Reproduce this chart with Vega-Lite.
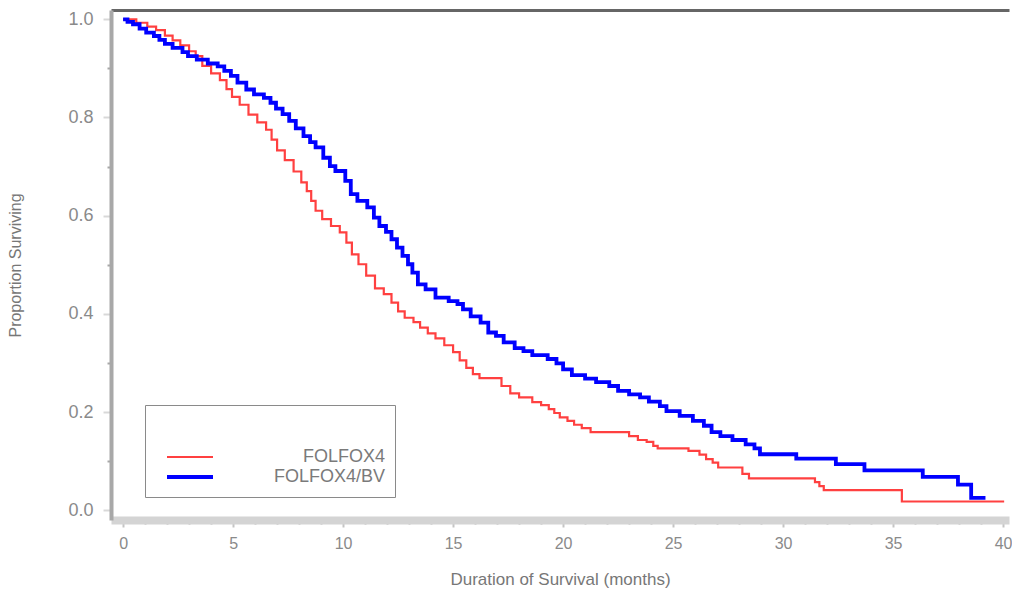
{
  "$schema": "https://vega.github.io/schema/vega-lite/v6.json",
  "width": 898,
  "height": 510,
  "autosize": {"type": "none"},
  "padding": {"left": 111, "top": 10, "right": 3, "bottom": 70},
  "background": "white",
  "config": {"view": {"stroke": null}, "font": "Liberation Sans"},
  "datasets": {
    "km": [
      {"series": "FOLFOX4", "t": 0, "s": 1.0},
      {"series": "FOLFOX4", "t": 0.6, "s": 0.993},
      {"series": "FOLFOX4", "t": 1.1, "s": 0.985},
      {"series": "FOLFOX4", "t": 1.5, "s": 0.978},
      {"series": "FOLFOX4", "t": 1.9, "s": 0.967},
      {"series": "FOLFOX4", "t": 2.25, "s": 0.957},
      {"series": "FOLFOX4", "t": 2.6, "s": 0.947},
      {"series": "FOLFOX4", "t": 3.0, "s": 0.935},
      {"series": "FOLFOX4", "t": 3.3, "s": 0.925},
      {"series": "FOLFOX4", "t": 3.6, "s": 0.905},
      {"series": "FOLFOX4", "t": 4.0, "s": 0.89},
      {"series": "FOLFOX4", "t": 4.4, "s": 0.876},
      {"series": "FOLFOX4", "t": 4.7, "s": 0.858},
      {"series": "FOLFOX4", "t": 4.95, "s": 0.842},
      {"series": "FOLFOX4", "t": 5.3, "s": 0.826},
      {"series": "FOLFOX4", "t": 5.7, "s": 0.806},
      {"series": "FOLFOX4", "t": 6.1, "s": 0.79},
      {"series": "FOLFOX4", "t": 6.5, "s": 0.775},
      {"series": "FOLFOX4", "t": 6.75, "s": 0.755},
      {"series": "FOLFOX4", "t": 7.0, "s": 0.733},
      {"series": "FOLFOX4", "t": 7.35, "s": 0.713},
      {"series": "FOLFOX4", "t": 7.75, "s": 0.69},
      {"series": "FOLFOX4", "t": 8.1, "s": 0.668},
      {"series": "FOLFOX4", "t": 8.35, "s": 0.65},
      {"series": "FOLFOX4", "t": 8.55, "s": 0.63},
      {"series": "FOLFOX4", "t": 8.75, "s": 0.61},
      {"series": "FOLFOX4", "t": 9.05, "s": 0.593},
      {"series": "FOLFOX4", "t": 9.45, "s": 0.579},
      {"series": "FOLFOX4", "t": 9.85, "s": 0.566},
      {"series": "FOLFOX4", "t": 10.15, "s": 0.545},
      {"series": "FOLFOX4", "t": 10.4, "s": 0.521},
      {"series": "FOLFOX4", "t": 10.7, "s": 0.501},
      {"series": "FOLFOX4", "t": 11.05, "s": 0.478},
      {"series": "FOLFOX4", "t": 11.45, "s": 0.452},
      {"series": "FOLFOX4", "t": 11.85, "s": 0.44},
      {"series": "FOLFOX4", "t": 12.2, "s": 0.423},
      {"series": "FOLFOX4", "t": 12.5, "s": 0.405},
      {"series": "FOLFOX4", "t": 12.8, "s": 0.392},
      {"series": "FOLFOX4", "t": 13.2, "s": 0.383},
      {"series": "FOLFOX4", "t": 13.5, "s": 0.372},
      {"series": "FOLFOX4", "t": 13.85, "s": 0.36},
      {"series": "FOLFOX4", "t": 14.2, "s": 0.35},
      {"series": "FOLFOX4", "t": 14.6, "s": 0.336},
      {"series": "FOLFOX4", "t": 15.0, "s": 0.322},
      {"series": "FOLFOX4", "t": 15.3, "s": 0.305},
      {"series": "FOLFOX4", "t": 15.6, "s": 0.29},
      {"series": "FOLFOX4", "t": 15.9, "s": 0.277},
      {"series": "FOLFOX4", "t": 16.2, "s": 0.269},
      {"series": "FOLFOX4", "t": 17.2, "s": 0.253},
      {"series": "FOLFOX4", "t": 17.6, "s": 0.238},
      {"series": "FOLFOX4", "t": 18.0, "s": 0.23},
      {"series": "FOLFOX4", "t": 18.6, "s": 0.22},
      {"series": "FOLFOX4", "t": 19.0, "s": 0.214},
      {"series": "FOLFOX4", "t": 19.35, "s": 0.206},
      {"series": "FOLFOX4", "t": 19.6, "s": 0.198},
      {"series": "FOLFOX4", "t": 19.85, "s": 0.189},
      {"series": "FOLFOX4", "t": 20.2, "s": 0.182},
      {"series": "FOLFOX4", "t": 20.5, "s": 0.174},
      {"series": "FOLFOX4", "t": 20.85, "s": 0.167},
      {"series": "FOLFOX4", "t": 21.25, "s": 0.159},
      {"series": "FOLFOX4", "t": 23.0, "s": 0.151},
      {"series": "FOLFOX4", "t": 23.4, "s": 0.143},
      {"series": "FOLFOX4", "t": 23.8, "s": 0.139},
      {"series": "FOLFOX4", "t": 24.1, "s": 0.131},
      {"series": "FOLFOX4", "t": 24.3, "s": 0.126},
      {"series": "FOLFOX4", "t": 25.7, "s": 0.121},
      {"series": "FOLFOX4", "t": 26.2, "s": 0.113},
      {"series": "FOLFOX4", "t": 26.5, "s": 0.104},
      {"series": "FOLFOX4", "t": 26.8, "s": 0.097},
      {"series": "FOLFOX4", "t": 27.05, "s": 0.087},
      {"series": "FOLFOX4", "t": 28.15, "s": 0.074},
      {"series": "FOLFOX4", "t": 28.45, "s": 0.065},
      {"series": "FOLFOX4", "t": 31.45, "s": 0.057},
      {"series": "FOLFOX4", "t": 31.65, "s": 0.049},
      {"series": "FOLFOX4", "t": 31.85, "s": 0.041},
      {"series": "FOLFOX4", "t": 35.4, "s": 0.0177},
      {"series": "FOLFOX4", "t": 40.05, "s": 0.0177},
      {"series": "FOLFOX4/BV", "t": 0, "s": 1.0},
      {"series": "FOLFOX4/BV", "t": 0.2, "s": 0.995},
      {"series": "FOLFOX4/BV", "t": 0.45, "s": 0.99},
      {"series": "FOLFOX4/BV", "t": 0.75, "s": 0.981},
      {"series": "FOLFOX4/BV", "t": 1.05, "s": 0.973},
      {"series": "FOLFOX4/BV", "t": 1.4, "s": 0.966},
      {"series": "FOLFOX4/BV", "t": 1.65, "s": 0.958},
      {"series": "FOLFOX4/BV", "t": 1.9, "s": 0.95},
      {"series": "FOLFOX4/BV", "t": 2.25, "s": 0.942},
      {"series": "FOLFOX4/BV", "t": 2.7, "s": 0.933},
      {"series": "FOLFOX4/BV", "t": 2.95, "s": 0.925},
      {"series": "FOLFOX4/BV", "t": 3.35, "s": 0.918},
      {"series": "FOLFOX4/BV", "t": 3.85, "s": 0.91},
      {"series": "FOLFOX4/BV", "t": 4.3, "s": 0.904},
      {"series": "FOLFOX4/BV", "t": 4.6, "s": 0.895},
      {"series": "FOLFOX4/BV", "t": 4.9, "s": 0.885},
      {"series": "FOLFOX4/BV", "t": 5.2, "s": 0.871},
      {"series": "FOLFOX4/BV", "t": 5.6, "s": 0.857},
      {"series": "FOLFOX4/BV", "t": 5.95, "s": 0.847},
      {"series": "FOLFOX4/BV", "t": 6.4, "s": 0.84},
      {"series": "FOLFOX4/BV", "t": 6.7, "s": 0.83},
      {"series": "FOLFOX4/BV", "t": 6.95, "s": 0.818},
      {"series": "FOLFOX4/BV", "t": 7.25, "s": 0.807},
      {"series": "FOLFOX4/BV", "t": 7.55, "s": 0.793},
      {"series": "FOLFOX4/BV", "t": 7.85, "s": 0.778},
      {"series": "FOLFOX4/BV", "t": 8.2, "s": 0.762},
      {"series": "FOLFOX4/BV", "t": 8.5, "s": 0.75},
      {"series": "FOLFOX4/BV", "t": 8.75, "s": 0.739},
      {"series": "FOLFOX4/BV", "t": 9.1, "s": 0.718},
      {"series": "FOLFOX4/BV", "t": 9.4, "s": 0.701},
      {"series": "FOLFOX4/BV", "t": 9.65, "s": 0.691},
      {"series": "FOLFOX4/BV", "t": 10.1, "s": 0.671},
      {"series": "FOLFOX4/BV", "t": 10.35, "s": 0.644},
      {"series": "FOLFOX4/BV", "t": 10.65, "s": 0.63},
      {"series": "FOLFOX4/BV", "t": 11.1, "s": 0.617},
      {"series": "FOLFOX4/BV", "t": 11.4, "s": 0.596},
      {"series": "FOLFOX4/BV", "t": 11.65, "s": 0.579},
      {"series": "FOLFOX4/BV", "t": 11.95, "s": 0.567},
      {"series": "FOLFOX4/BV", "t": 12.2, "s": 0.552},
      {"series": "FOLFOX4/BV", "t": 12.45, "s": 0.535},
      {"series": "FOLFOX4/BV", "t": 12.7, "s": 0.518},
      {"series": "FOLFOX4/BV", "t": 12.95, "s": 0.501},
      {"series": "FOLFOX4/BV", "t": 13.15, "s": 0.484},
      {"series": "FOLFOX4/BV", "t": 13.4, "s": 0.46},
      {"series": "FOLFOX4/BV", "t": 13.75, "s": 0.45},
      {"series": "FOLFOX4/BV", "t": 14.2, "s": 0.433},
      {"series": "FOLFOX4/BV", "t": 14.8, "s": 0.426},
      {"series": "FOLFOX4/BV", "t": 15.2, "s": 0.42},
      {"series": "FOLFOX4/BV", "t": 15.45, "s": 0.409},
      {"series": "FOLFOX4/BV", "t": 15.8, "s": 0.395},
      {"series": "FOLFOX4/BV", "t": 16.25, "s": 0.382},
      {"series": "FOLFOX4/BV", "t": 16.6, "s": 0.362},
      {"series": "FOLFOX4/BV", "t": 16.95, "s": 0.355},
      {"series": "FOLFOX4/BV", "t": 17.3, "s": 0.342},
      {"series": "FOLFOX4/BV", "t": 17.8, "s": 0.33},
      {"series": "FOLFOX4/BV", "t": 18.2, "s": 0.324},
      {"series": "FOLFOX4/BV", "t": 18.6, "s": 0.316},
      {"series": "FOLFOX4/BV", "t": 19.3, "s": 0.308},
      {"series": "FOLFOX4/BV", "t": 19.7, "s": 0.299},
      {"series": "FOLFOX4/BV", "t": 20.0, "s": 0.287},
      {"series": "FOLFOX4/BV", "t": 20.4, "s": 0.275},
      {"series": "FOLFOX4/BV", "t": 21.0, "s": 0.268},
      {"series": "FOLFOX4/BV", "t": 21.5, "s": 0.261},
      {"series": "FOLFOX4/BV", "t": 22.1, "s": 0.253},
      {"series": "FOLFOX4/BV", "t": 22.5, "s": 0.243},
      {"series": "FOLFOX4/BV", "t": 23.0, "s": 0.236},
      {"series": "FOLFOX4/BV", "t": 23.5, "s": 0.23},
      {"series": "FOLFOX4/BV", "t": 23.9, "s": 0.221},
      {"series": "FOLFOX4/BV", "t": 24.4, "s": 0.212},
      {"series": "FOLFOX4/BV", "t": 24.7, "s": 0.202},
      {"series": "FOLFOX4/BV", "t": 25.3, "s": 0.192},
      {"series": "FOLFOX4/BV", "t": 25.9, "s": 0.182},
      {"series": "FOLFOX4/BV", "t": 26.4, "s": 0.172},
      {"series": "FOLFOX4/BV", "t": 26.75, "s": 0.159},
      {"series": "FOLFOX4/BV", "t": 27.15, "s": 0.151},
      {"series": "FOLFOX4/BV", "t": 27.7, "s": 0.143},
      {"series": "FOLFOX4/BV", "t": 28.3, "s": 0.134},
      {"series": "FOLFOX4/BV", "t": 28.7, "s": 0.126},
      {"series": "FOLFOX4/BV", "t": 28.95, "s": 0.114},
      {"series": "FOLFOX4/BV", "t": 30.6, "s": 0.105},
      {"series": "FOLFOX4/BV", "t": 32.4, "s": 0.094},
      {"series": "FOLFOX4/BV", "t": 33.7, "s": 0.081},
      {"series": "FOLFOX4/BV", "t": 36.35, "s": 0.068},
      {"series": "FOLFOX4/BV", "t": 37.95, "s": 0.052},
      {"series": "FOLFOX4/BV", "t": 38.55, "s": 0.025},
      {"series": "FOLFOX4/BV", "t": 39.2, "s": 0.025}
    ]
  },
  "data": {"name": "km"},
  "layer": [
    {
      "mark": {"type": "line", "interpolate": "step-after", "strokeCap": "butt", "strokeJoin": "miter"},
      "encoding": {
        "x": {
          "field": "t", "type": "quantitative",
          "scale": {"domain": [-0.55, 40.27], "nice": false, "zero": false},
          "axis": {
            "values": [0,1,2,3,4,5,6,7,8,9,10,11,12,13,14,15,16,17,18,19,20,21,22,23,24,25,26,27,28,29,30,31,32,33,34,35,36,37,38,39,40],
            "labelExpr": "datum.value % 5 === 0 ? datum.label : ''",
            "title": "Duration of Survival (months)",
            "grid": false,
            "domainColor": "#d4d4d4", "domainWidth": 8,
            "tickColor": {"condition": {"test": "datum.value % 5 === 0", "value": "#c4c4c4"}, "value": "#a8a8a8"},
            "tickSize": {"condition": {"test": "datum.value % 5 === 0", "value": 7}, "value": 4},
            "tickWidth": 2,
            "labelFontSize": 16, "labelColor": "#8a8a8a", "labelPadding": 8, "labelFlush": false,
            "titleFontSize": 17, "titleColor": "#777777", "titleFontWeight": "normal", "titlePadding": 20
          }
        },
        "y": {
          "field": "s", "type": "quantitative",
          "scale": {"domain": [-0.02, 1.019], "nice": false, "zero": false},
          "axis": {
            "values": [0,0.1,0.2,0.3,0.4,0.5,0.6,0.7,0.8,0.9,1.0],
            "labelExpr": "round(datum.value*10) % 2 === 0 ? format(datum.value, '.1f') : ''",
            "title": "Proportion Surviving",
            "grid": false,
            "domainColor": "#a8a8a8", "domainWidth": 4,
            "tickColor": {"condition": {"test": "round(datum.value*10) % 2 === 0", "value": "#d8d8d8"}, "value": "#a8a8a8"},
            "tickSize": {"condition": {"test": "round(datum.value*10) % 2 === 0", "value": 8}, "value": 4},
            "tickWidth": 2,
            "labelFontSize": 18, "labelColor": "#8a8a8a", "labelPadding": 10,
            "titleFontSize": 16, "titleColor": "#777777", "titleFontWeight": "normal", "titlePadding": 44
          }
        },
        "color": {
          "field": "series", "type": "nominal",
          "scale": {"domain": ["FOLFOX4", "FOLFOX4/BV"], "range": ["#ff4040", "#0000ff"]},
          "legend": {
            "title": " ", "titleFontSize": 22, "titlePadding": 10,
            "orient": "none", "legendX": 34, "legendY": 395,
            "direction": "vertical",
            "symbolType": "stroke", "symbolSize": 2116,
            "symbolOffset": 10,
            "clipHeight": 20,
            "labelAlign": "right", "labelOffset": 170,
            "labelFontSize": 18, "labelColor": "#7a7a7a",
            "padding": 10, "rowPadding": 0,
            "strokeColor": "#8a8a8a", "fillColor": "white"
          }
        },
        "strokeWidth": {
          "field": "series", "type": "nominal",
          "scale": {"domain": ["FOLFOX4", "FOLFOX4/BV"], "range": [2.2, 3.8]},
          "legend": null
        }
      }
    },
    {
      "mark": {"type": "point", "opacity": 0},
      "encoding": {
        "x": {
          "field": "t", "type": "quantitative",
          "axis": {"orient": "top", "domainColor": "#666666", "domainWidth": 3, "ticks": false, "labels": false, "title": null, "grid": false}
        },
        "y": {"field": "s", "type": "quantitative", "axis": null}
      }
    }
  ],
  "resolve": {"axis": {"x": "independent", "y": "independent"}}
}
